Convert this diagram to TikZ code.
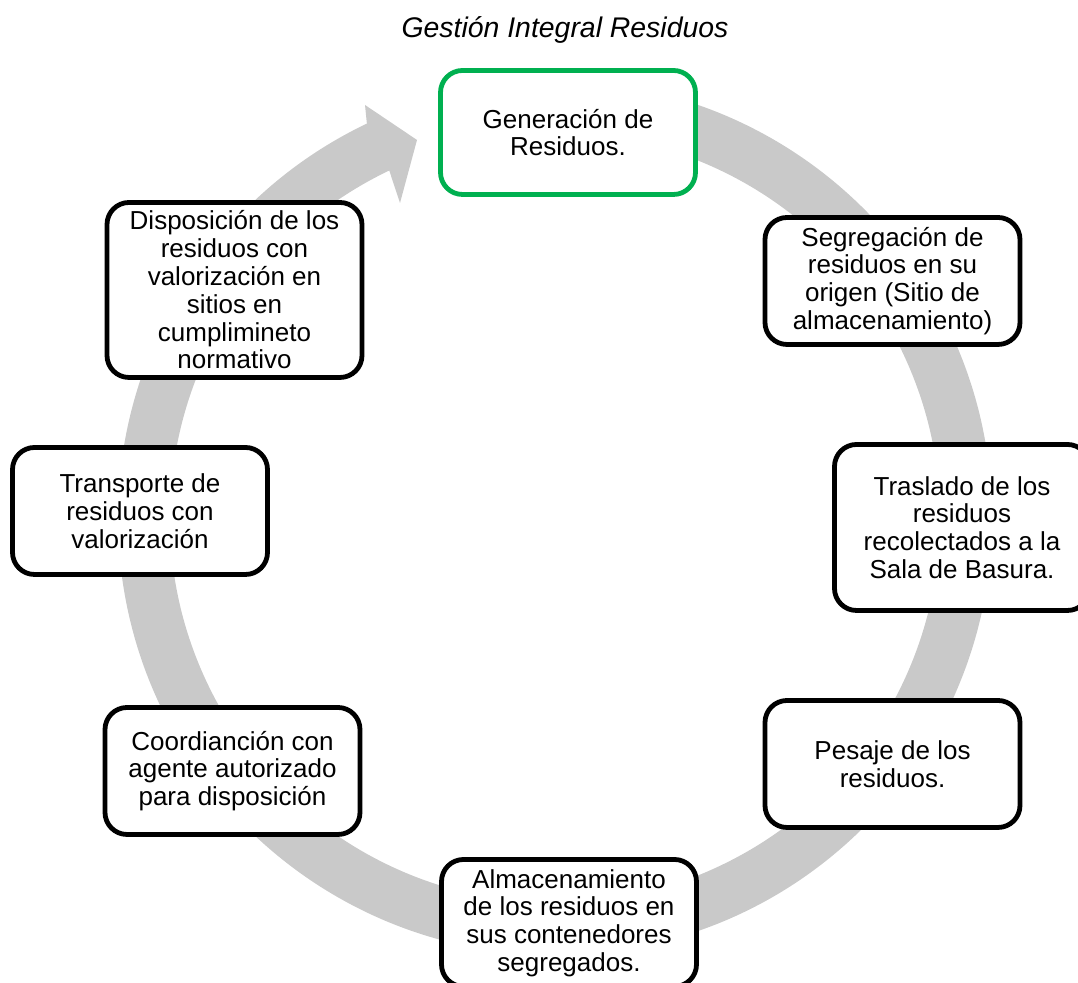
\documentclass[tikz,border=0pt]{standalone}
\usepackage{fontspec}
\setmainfont{Liberation Sans}
\usetikzlibrary{calc}
\definecolor{ringgray}{HTML}{C9C9C9}
\definecolor{boxgreen}{HTML}{00B050}
\tikzset{
  stepbox/.style={draw=black, line width=2.4pt, rounded corners=11pt, fill=white,
    align=center, inner sep=0pt, minimum width=127.5pt, minimum height=63.5pt,
    font=\fontsize{13}{13.9}\selectfont},
  titletext/.style={font=\fontsize{14.2}{16}\selectfont\itshape, anchor=base}
}
\begin{document}
\begin{tikzpicture}[x=0.5pt,y=0.5pt]
\useasboundingbox (0,0) rectangle (1078,983);
\coordinate (C) at (555,465);
% ring arrow
\fill[ringgray] ($(C)+(95:437)$) arc[start angle=95, end angle=-244.5, radius=437]
  -- (365,878) -- (417,843) -- (400,780)
  -- ($(C)+(115.5:385)$) arc[start angle=-244.5, end angle=95, radius=385] -- cycle;
% title
\node[titletext] (title) at (565,945) {Gestión Integral Residuos};
% boxes
\node[stepbox, draw=boxgreen, minimum height=62pt] (gen) at (568,850.5) {Generación de\\Residuos.};
\node[stepbox] (seg) at (892.5,702) {Segregación de\\residuos en su\\origen (Sitio de\\almacenamiento)};
\node[stepbox, minimum height=83pt] (tras) at (962,455.5) {Traslado de los\\residuos\\recolectados a la\\Sala de Basura.};
\node[stepbox] (pes) at (892.5,219) {Pesaje de los\\residuos.};
\node[stepbox] (alm) at (569,60) {Almacenamiento\\de los residuos en\\sus contenedores\\segregados.};
\node[stepbox] (coord) at (232.5,212) {Coordianción con\\agente autorizado\\para disposición};
\node[stepbox] (trans) at (140,472) {Transporte de\\residuos con\\valorización};
\node[stepbox, minimum height=87.5pt] (disp) at (234.5,693) {Disposición de los\\residuos con\\valorización en\\sitios en\\cumplimineto\\normativo};
\end{tikzpicture}
\end{document}
